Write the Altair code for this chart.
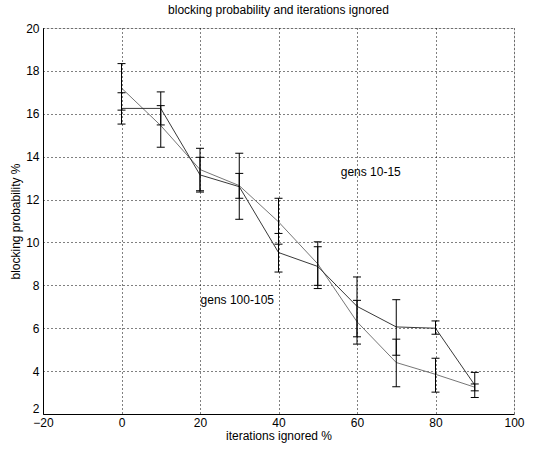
import altair as alt
import pandas as pd

x_vals = [0, 10, 20, 30, 40, 50, 60, 70, 80, 90]

s1_mean = [17.2, 15.45, 13.4, 12.65, 10.96, 9.0, 6.3, 4.4, 3.85, 3.25]
s1_low = [16.17, 14.44, 12.41, 11.08, 9.92, 7.85, 5.26, 3.27, 3.02, 3.08]
s1_high = [18.34, 16.38, 14.39, 14.16, 12.06, 10.03, 7.3, 5.49, 4.6, 3.4]

s2_mean = [16.25, 16.25, 13.15, 12.6, 9.53, 8.88, 7.02, 6.06, 6.0, 3.35]
s2_low = [15.52, 15.48, 12.35, 12.06, 8.62, 8.0, 5.6, 4.74, 5.72, 2.77]
s2_high = [16.98, 17.02, 13.97, 13.22, 10.42, 9.8, 8.39, 7.33, 6.34, 3.94]

series_names = ["gens 100-105", "gens 10-15"]

label_text = ["gens 10-15", "gens 100-105"]
label_x = [63.5, 29.5]
label_y = [13.3, 7.3]

x_ticks = [-20, 0, 20, 40, 60, 80, 100]
y_ticks = [2, 4, 6, 8, 10, 12, 14, 16, 18, 20]

rows = []
for name, m, lo, hi in [(series_names[0], s1_mean, s1_low, s1_high),
                        (series_names[1], s2_mean, s2_low, s2_high)]:
    for xv, mv, lv, hv in zip(x_vals, m, lo, hi):
        rows.append({"series": name, "x": xv, "y": mv, "low": lv, "high": hv})
df = pd.DataFrame(rows)
labels = pd.DataFrame({"text": label_text, "x": label_x, "y": label_y})

FONT = "Liberation Sans"
FS = 12

xscale = alt.Scale(domain=[-20, 100], nice=False, zero=False)
yscale = alt.Scale(domain=[2, 20], nice=False, zero=False)

xaxis = alt.Axis(values=x_ticks, title="iterations ignored %", grid=True,
                 gridDash=[1, 3], gridColor="black", gridOpacity=1,
                 tickSize=0, labelPadding=3, titlePadding=2,
                 domainColor="black", labelColor="black", titleColor="black",
                 labelFont=FONT, titleFont=FONT, labelFontSize=FS, titleFontSize=FS,
                 titleFontWeight="normal", labelFlush=False)
yaxis = alt.Axis(values=y_ticks, title="blocking probability %", grid=True,
                 gridDash=[1, 3], gridColor="black", gridOpacity=1,
                 tickSize=0, labelPadding=4, titlePadding=3,
                 labelOffset={"condition": {"test": "datum.value === 2", "value": -6}, "value": 0},
                 domainColor="black", labelColor="black", titleColor="black",
                 labelFont=FONT, titleFont=FONT, labelFontSize=FS, titleFontSize=FS,
                 titleFontWeight="normal", labelFlush=False)

base = alt.Chart(df)

lines = base.mark_line(strokeWidth=0.9).encode(
    x=alt.X("x:Q", scale=xscale, axis=xaxis),
    y=alt.Y("y:Q", scale=yscale, axis=yaxis),
    color=alt.Color("series:N", scale=alt.Scale(domain=series_names, range=["#666666", "#222222"]), legend=None),
    detail="series:N",
)

bars = base.mark_rule(color="black", strokeWidth=1).encode(
    x=alt.X("x:Q", scale=xscale), y=alt.Y("low:Q", scale=yscale), y2="high:Q"
)
cap_lo = base.mark_rule(color="black", strokeWidth=1, xOffset=-4, x2Offset=4).encode(
    x=alt.X("x:Q", scale=xscale), x2=alt.X2("x"), y=alt.Y("low:Q", scale=yscale)
)
cap_hi = base.mark_rule(color="black", strokeWidth=1, xOffset=-4, x2Offset=4).encode(
    x=alt.X("x:Q", scale=xscale), x2=alt.X2("x"), y=alt.Y("high:Q", scale=yscale)
)

texts = alt.Chart(labels).mark_text(font=FONT, fontSize=FS, color="black", align="center", baseline="middle").encode(
    x=alt.X("x:Q", scale=xscale), y=alt.Y("y:Q", scale=yscale), text="text:N"
)

chart = alt.layer(lines, bars, cap_lo, cap_hi, texts).properties(
    width=471, height=386,
    title=alt.TitleParams("blocking probability and iterations ignored", font=FONT,
                          fontSize=FS, fontWeight="normal", color="black", offset=5),
    autosize=alt.AutoSizeParams(type="none"),
    padding={"left": 43, "top": 28, "right": 30, "bottom": 36},
).configure_view(stroke="black", strokeWidth=1).configure(background="white")

chart.save("out.html", embed_options={"renderer": "svg", "actions": False})
